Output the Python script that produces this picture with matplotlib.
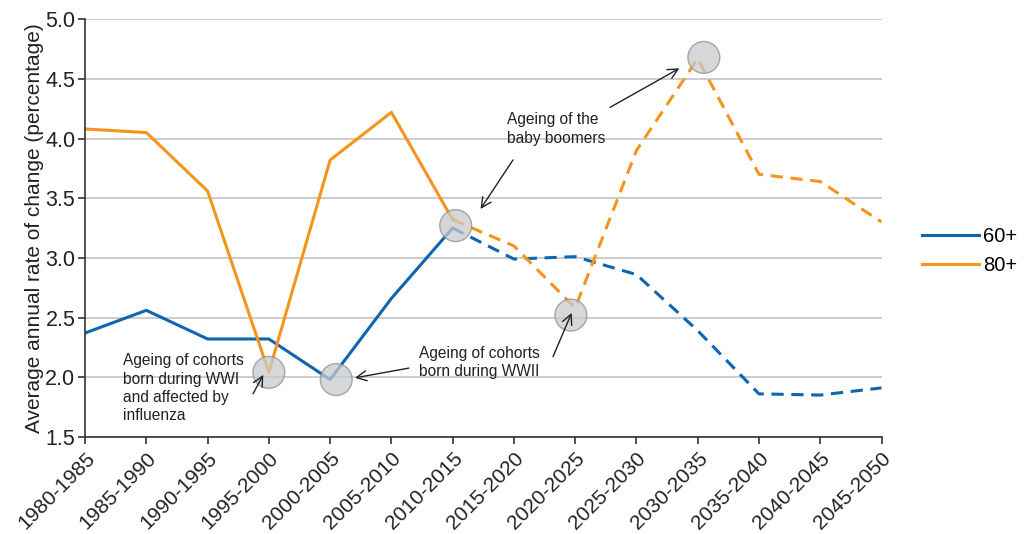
import matplotlib
matplotlib.use("Agg")
import matplotlib.pyplot as plt
from matplotlib.patches import Ellipse

plt.rcParams["font.family"] = ["Liberation Sans", "DejaVu Sans"]

periods = ["1980-1985", "1985-1990", "1990-1995", "1995-2000", "2000-2005",
           "2005-2010", "2010-2015", "2015-2020", "2020-2025", "2025-2030",
           "2030-2035", "2035-2040", "2040-2045", "2045-2050"]
age60 = [2.37, 2.56, 2.32, 2.32, 1.98, 2.66, 3.25, 2.99, 3.01, 2.86, 2.39, 1.86, 1.85, 1.91]
age80 = [4.08, 4.05, 3.56, 2.04, 3.82, 4.22, 3.32, 3.10, 2.58, 3.90, 4.67, 3.70, 3.64, 3.30]
split = 6  # estimates (solid) up to 2010-2015, projections dashed after

# highlighted points: (x position, value)
highlights = [(3.0, 2.04), (4.1, 1.98), (6.05, 3.27), (7.93, 2.52), (10.1, 4.68)]

BLUE = "#0e65b0"
ORANGE = "#f7941d"

fig = plt.figure(figsize=(10.25, 5.34), dpi=100)
ax = fig.add_axes([0.083, 0.182, 0.777, 0.782])

x = list(range(len(periods)))
ax.plot(x[:split + 1], age60[:split + 1], color=BLUE, lw=2.2, label="60+")
ax.plot(x[split:], age60[split:], color=BLUE, lw=2.2, ls=(0, (4, 2.5)))
ax.plot(x[:split + 1], age80[:split + 1], color=ORANGE, lw=2.2, label="80+")
ax.plot(x[split:], age80[split:], color=ORANGE, lw=2.2, ls=(0, (4, 2.5)))

ax.set_xlim(0, len(periods) - 1)
ax.set_ylim(1.5, 5.0)
ax.set_yticks([1.5, 2.0, 2.5, 3.0, 3.5, 4.0, 4.5, 5.0])
ax.set_yticklabels(["1.5", "2.0", "2.5", "3.0", "3.5", "4.0", "4.5", "5.0"], fontsize=15.5)
ax.set_xticks(x)
ax.set_xticklabels(periods, rotation=45, ha="right", rotation_mode="anchor",
                   fontsize=15, family=["Liberation Sans Narrow", "Liberation Sans"])
ax.yaxis.grid(True, color="#cccccc", lw=1.4)
ax.set_axisbelow(True)
for s in ["top", "right"]:
    ax.spines[s].set_visible(False)
for s in ["left", "bottom"]:
    ax.spines[s].set_color("#333333")
    ax.spines[s].set_linewidth(1.2)
ax.tick_params(axis="both", direction="out", length=5, width=1.2, color="#333333", colors="#222222")
ax.tick_params(axis="y", pad=2)
ax.set_ylabel("Average annual rate of change (percentage)", fontsize=15, color="#222222", labelpad=1)

# grey circles over key points
for xo, v in highlights:
    e = Ellipse((xo, v), width=0.52, height=0.52 * (3.5 / 13) * (797 / 418),
                facecolor="#c8cacd", edgecolor="#8e8e8e", lw=1.0, alpha=0.75, zorder=5)
    ax.add_patch(e)

akw = dict(arrowstyle="->", color="#222222", lw=1.0, mutation_scale=18)
tkw = dict(fontsize=11.2, color="#222222", linespacing=1.28)

ax.text(0.62, 2.2, "Ageing of cohorts\nborn during WWI\nand affected by\ninfluenza", va="top", ha="left", **tkw)
ax.annotate("", xy=(2.93, 2.04), xytext=(2.72, 1.84), arrowprops=akw, zorder=6)

ax.text(5.45, 2.26, "Ageing of cohorts\nborn during WWII", va="top", ha="left", **tkw)
ax.annotate("", xy=(4.36, 1.99), xytext=(5.33, 2.08), arrowprops=akw, zorder=6)
ax.annotate("", xy=(7.96, 2.56), xytext=(7.62, 2.15), arrowprops=akw, zorder=6)

ax.text(6.88, 4.08, "Ageing of the\nbaby boomers", va="center", ha="left", **tkw)
ax.annotate("", xy=(6.43, 3.39), xytext=(7.01, 3.84), arrowprops=akw, zorder=6)
ax.annotate("", xy=(9.74, 4.6), xytext=(8.53, 4.25), arrowprops=akw, zorder=6)

ax.legend(loc="center left", bbox_to_anchor=(1.028, 0.445), frameon=False, fontsize=14.5,
          handlelength=2.85, handletextpad=0.2, labelspacing=0.5)

fig.savefig("out.png", dpi=100)
